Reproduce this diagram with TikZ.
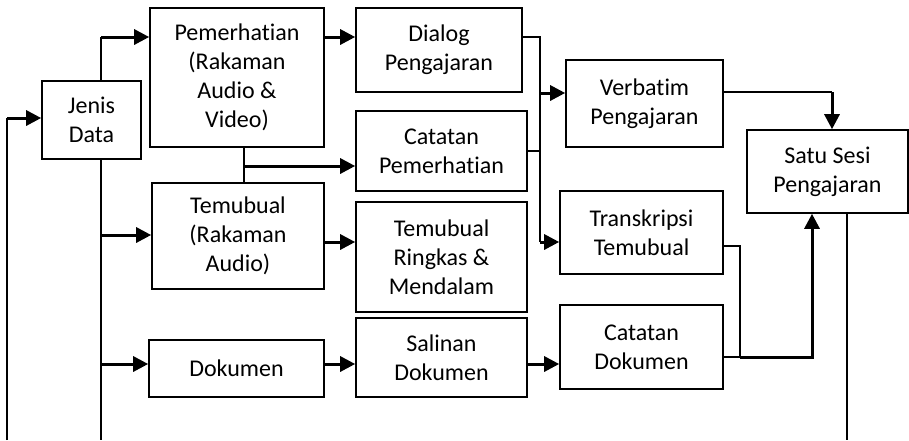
\documentclass[tikz,border=0pt]{standalone}
\usepackage{fontspec}
\setmainfont{Carlito}[Ligatures=NoCommon]
\usepackage{tikz}
\usetikzlibrary{arrows.meta}

\begin{document}
\begin{tikzpicture}[x=1pt, y=-1pt,
  every node/.style = {shape=rectangle, draw, line width=1.6pt,
    align=center, inner sep=0pt, font=\fontsize{24}{29}\selectfont},
  trunk/.style = {line width=1.6pt},
  arr/.style = {line width=3pt, -{Triangle[length=15pt,width=15pt]}}]
  \useasboundingbox (0,0) rectangle (909,440);
  % boxes
  \node (jenis) [minimum width=99pt, minimum height=78pt] at (91.5,120) {Jenis\\Data};
  \node (pemer) [minimum width=174pt, minimum height=139pt] at (237,77.5)
    {Pemerhatian\\(Rakaman\\Audio \&\\Video)};
  \node (temu) [minimum width=172pt, minimum height=106pt] at (238,236)
    {Temubual\\(Rakaman\\Audio)};
  \node (doku) [minimum width=175pt, minimum height=57pt] at (236.5,368.5) {Dokumen};
  \node (dialog) [minimum width=166pt, minimum height=84pt] at (439,50)
    {Dialog\\Pengajaran};
  \node (catatan) [minimum width=171pt, minimum height=80pt] at (441.5,151)
    {Catatan\\Pemerhatian};
  \node (ringkas) [minimum width=171pt, minimum height=110pt] at (441.5,257)
    {Temubual\\Ringkas \&\\Mendalam};
  \node (salinan) [minimum width=171pt, minimum height=79pt] at (441.5,357.5)
    {Salinan\\Dokumen};
  \node (verbatim) [minimum width=157pt, minimum height=87pt] at (644.5,103.5)
    {Verbatim\\Pengajaran};
  \node (transkripsi) [minimum width=163pt, minimum height=83pt] at (641.5,232.5)
    {Transkripsi\\Temubual};
  \node (catdok) [minimum width=163pt, minimum height=84pt] at (641.5,347)
    {Catatan\\Dokumen};
  \node (satu) [minimum width=161pt, minimum height=83pt] at (827.5,171.5)
    {Satu Sesi\\Pengajaran};

  % junctions
  \coordinate (lbot) at (7,440);
  \coordinate (lin) at (7,118);
  \coordinate (j1) at (101,37);
  \coordinate (j2) at (101,235);
  \coordinate (j3) at (101,364);
  \coordinate (jbot) at (101,440);
  \coordinate (p1) at (244,166);
  \coordinate (m1) at (540,37);
  \coordinate (m2) at (540,93);
  \coordinate (m3) at (540,242);
  \coordinate (s1) at (832,92);
  \coordinate (s2) at (740,246);
  \coordinate (s3) at (740,357);
  \coordinate (s4) at (812,357);
  \coordinate (sbot) at (847,440);

  % feedback into Jenis Data
  \draw[trunk] (lbot) -- (lin);
  \draw[arr] (lin) -- (lin -| jenis.west);

  % Jenis Data to the three sources
  \draw[trunk] (jenis.north -| j1) -- (j1);
  \draw[arr] (j1) -- (j1 -| pemer.west);
  \draw[trunk] (jenis.south -| j1) -- (jbot);
  \draw[arr] (j2) -- (j2 -| temu.west);
  \draw[arr] (j3) -- (j3 -| doku.west);

  % sources to records
  \draw[trunk] (pemer.south -| p1) -- (temu.north -| p1);
  \draw[arr] (p1) -- (p1 -| catatan.west);
  \draw[arr] (pemer.east |- j1) -- (dialog.west |- j1);
  \draw[arr] (temu.east |- m3) -- (ringkas.west |- m3);
  \draw[arr] (doku.east |- j3) -- (salinan.west |- j3);
  \draw[arr] (salinan.east |- j3) -- (catdok.west |- j3);

  % records to verbatim and transcript
  \draw[trunk] (dialog.east |- m1) -- (m1) -- (m3);
  \draw[trunk] (catatan.east) -- (catatan.east -| m1);
  \draw[arr] (m2) -- (m2 -| verbatim.west);
  \draw[arr] (m3) -- (m3 -| transkripsi.west);

  % into one teaching session
  \draw[trunk] (verbatim.east |- s1) -- (s1);
  \draw[arr] (s1) -- (s1 |- satu.north);
  \draw[trunk] (transkripsi.east |- s2) -- (s2) -- (s3);
  \draw[trunk] (catdok.east |- s3) -- (s3);
  \draw[arr] (s3) -- (s4) -- (s4 |- satu.south);
  \draw[trunk] (satu.south -| sbot) -- (sbot);
\end{tikzpicture}
\end{document}
